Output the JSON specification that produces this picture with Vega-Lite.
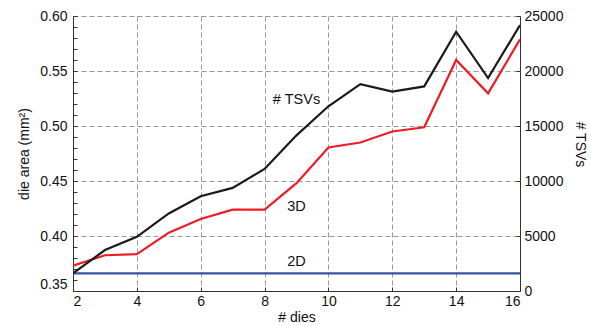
{
  "$schema": "https://vega.github.io/schema/vega-lite/v6.json",
  "width": 447,
  "height": 275,
  "autosize": "none",
  "padding": {"left": 73, "top": 16, "right": 71, "bottom": 35},
  "config": {
    "view": {"stroke": null},
    "font": "Liberation Sans",
    "axis": {
      "labelFont": "Liberation Sans",
      "titleFont": "Liberation Sans",
      "labelFontSize": 14,
      "titleFontSize": 14,
      "titleFontWeight": "normal",
      "labelColor": "#111",
      "titleColor": "#111",
      "domainColor": "#333",
      "tickColor": "#333",
      "gridColor": "#999",
      "gridDash": [5, 3],
      "gridWidth": 1
    }
  },
  "datasets": {
    "area": [
      {"dies": 2, "series": "3D", "area": 0.373},
      {"dies": 3, "series": "3D", "area": 0.3825},
      {"dies": 4, "series": "3D", "area": 0.3835},
      {"dies": 5, "series": "3D", "area": 0.403},
      {"dies": 6, "series": "3D", "area": 0.4155},
      {"dies": 7, "series": "3D", "area": 0.424},
      {"dies": 8, "series": "3D", "area": 0.424},
      {"dies": 9, "series": "3D", "area": 0.448},
      {"dies": 10, "series": "3D", "area": 0.4805},
      {"dies": 11, "series": "3D", "area": 0.485},
      {"dies": 12, "series": "3D", "area": 0.495},
      {"dies": 13, "series": "3D", "area": 0.4988},
      {"dies": 14, "series": "3D", "area": 0.560},
      {"dies": 15, "series": "3D", "area": 0.5297},
      {"dies": 16, "series": "3D", "area": 0.5787},
      {"dies": 2, "series": "2D", "area": 0.366},
      {"dies": 3, "series": "2D", "area": 0.366},
      {"dies": 4, "series": "2D", "area": 0.366},
      {"dies": 5, "series": "2D", "area": 0.366},
      {"dies": 6, "series": "2D", "area": 0.366},
      {"dies": 7, "series": "2D", "area": 0.366},
      {"dies": 8, "series": "2D", "area": 0.366},
      {"dies": 9, "series": "2D", "area": 0.366},
      {"dies": 10, "series": "2D", "area": 0.366},
      {"dies": 11, "series": "2D", "area": 0.366},
      {"dies": 12, "series": "2D", "area": 0.366},
      {"dies": 13, "series": "2D", "area": 0.366},
      {"dies": 14, "series": "2D", "area": 0.366},
      {"dies": 15, "series": "2D", "area": 0.366},
      {"dies": 16, "series": "2D", "area": 0.366}
    ],
    "tsv": [
      {"dies": 2, "tsvs": 1600},
      {"dies": 3, "tsvs": 3720},
      {"dies": 4, "tsvs": 4930},
      {"dies": 5, "tsvs": 7050},
      {"dies": 6, "tsvs": 8620},
      {"dies": 7, "tsvs": 9370},
      {"dies": 8, "tsvs": 11100},
      {"dies": 9, "tsvs": 14150},
      {"dies": 10, "tsvs": 16790},
      {"dies": 11, "tsvs": 18810},
      {"dies": 12, "tsvs": 18120},
      {"dies": 13, "tsvs": 18600},
      {"dies": 14, "tsvs": 23570},
      {"dies": 15, "tsvs": 19360},
      {"dies": 16, "tsvs": 24170}
    ],
    "labels": [
      {"dies": 9, "area": 0.5235, "label": "# TSVs"},
      {"dies": 9, "area": 0.4265, "label": "3D"},
      {"dies": 9, "area": 0.3765, "label": "2D"}
    ]
  },
  "layer": [
    {
      "data": {"name": "area"},
      "mark": {"type": "line", "strokeWidth": 2.2, "clip": true},
      "encoding": {
        "x": {
          "field": "dies", "type": "quantitative",
          "scale": {"domain": [2, 16], "nice": false, "zero": false},
          "axis": {
            "title": "# dies",
            "values": [2,2.5,3,3.5,4,4.5,5,5.5,6,6.5,7,7.5,8,8.5,9,9.5,10,10.5,11,11.5,12,12.5,13,13.5,14,14.5,15,15.5,16],
            "labelExpr": "datum.value % 2 === 0 ? datum.label : ''",
            "tickSize": -4,
            "labelPadding": 7,
            "titlePadding": 2,
            "grid": true,
            "gridOpacity": {"condition": {"test": "datum.value % 2 === 0", "value": 1}, "value": 0}
          }
        },
        "y": {
          "field": "area", "type": "quantitative",
          "scale": {"domain": [0.35, 0.60], "nice": false, "zero": false},
          "axis": {
            "title": "die area (mm²)",
            "values": [0.35,0.36,0.37,0.38,0.39,0.40,0.41,0.42,0.43,0.44,0.45,0.46,0.47,0.48,0.49,0.50,0.51,0.52,0.53,0.54,0.55,0.56,0.57,0.58,0.59,0.60],
            "format": ".2f",
            "labelExpr": "abs(datum.value*20 - round(datum.value*20)) < 0.001 ? datum.label : ''",
            "labelBaseline": {"condition": {"test": "datum.value < 0.355", "value": "bottom"}, "value": "middle"},
            "tickSize": -4,
            "labelPadding": 10,
            "titlePadding": 8,
            "grid": true,
            "gridOpacity": {"condition": {"test": "abs(datum.value*20 - round(datum.value*20)) < 0.001 && datum.value > 0.36", "value": 1}, "value": 0}
          }
        },
        "color": {
          "field": "series", "type": "nominal",
          "scale": {"domain": ["2D", "3D"], "range": ["#3953a4", "#ee1c25"]},
          "legend": null
        },
        "order": {"field": "dies"}
      }
    },
    {
      "data": {"name": "labels"},
      "mark": {"type": "text", "fontSize": 14.5, "font": "Liberation Sans", "color": "#111"},
      "encoding": {
        "x": {"field": "dies", "type": "quantitative"},
        "y": {
          "field": "area", "type": "quantitative",
          "scale": {"domain": [0.35, 0.60], "nice": false, "zero": false},
          "axis": null
        },
        "text": {"field": "label"}
      }
    },
    {
      "data": {"name": "tsv"},
      "mark": {"type": "line", "strokeWidth": 2.2, "color": "#1a1a1a", "clip": true},
      "encoding": {
        "x": {"field": "dies", "type": "quantitative"},
        "y": {
          "field": "tsvs", "type": "quantitative",
          "scale": {"domain": [0, 25000], "nice": false},
          "axis": {
            "orient": "right",
            "title": "# TSVs",
            "titleY": 128,
            "values": [0, 5000, 10000, 15000, 20000, 25000],
            "format": "d",
            "tickSize": -4,
            "labelPadding": 8,
            "titlePadding": 10,
            "grid": false
          }
        }
      }
    }
  ],
  "resolve": {"scale": {"y": "independent"}, "axis": {"y": "independent"}}
}
